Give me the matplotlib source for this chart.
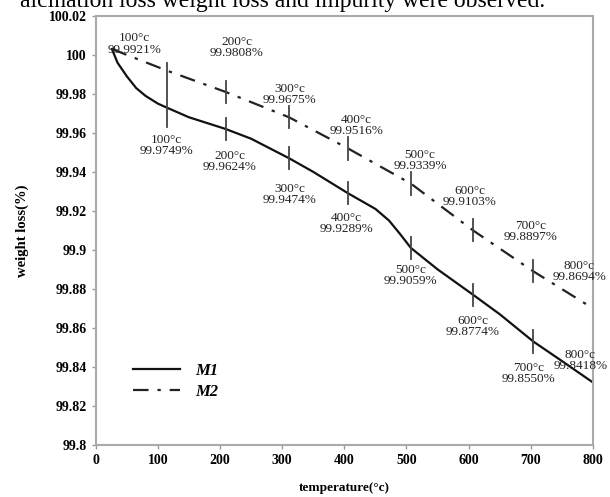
import numpy as np
import matplotlib.pyplot as plt

plt.rcParams['font.family'] = ['Liberation Serif', 'DejaVu Serif']

# M1 (solid) curve
m1_temp = [26, 35, 50, 65, 80, 100, 114, 150, 209, 250, 311, 350, 406, 450, 472, 490, 507, 550, 607, 650, 704, 750, 800]
m1_loss = [100.003, 99.996, 99.989, 99.983, 99.979, 99.975, 99.973, 99.968, 99.962, 99.957, 99.947, 99.940, 99.929, 99.921, 99.915, 99.908, 99.901, 99.890, 99.877, 99.867, 99.853, 99.843, 99.832]

# M2 (dash-dot) curve
m2_temp = [26, 114, 209, 311, 406, 507, 607, 704, 800]
m2_loss = [100.003, 99.992, 99.981, 99.968, 99.952, 99.934, 99.910, 99.889, 99.870]

# marker positions on each curve
mark_temp = [114, 209, 311, 406, 507, 607, 704]
m1_mark = [99.973, 99.962, 99.947, 99.929, 99.901, 99.877, 99.853]
m2_mark = [99.992, 99.981, 99.968, 99.952, 99.934, 99.910, 99.889]

# annotation text and where it sits (temp, value)
m2_labels = ['100°c\n99.9921%', '200°c\n99.9808%', '300°c\n99.9675%', '400°c\n99.9516%',
             '500°c\n99.9339%', '600°c\n99.9103%', '700°c\n99.8897%', '800°c\n99.8694%']
m2_lab_x = [62, 227, 312, 419, 522, 602, 699, 778]
m2_lab_y = [100.0056, 100.0036, 99.9797, 99.9638, 99.9459, 99.9274, 99.9095, 99.8887]
m1_labels = ['100°c\n99.9749%', '200°c\n99.9624%', '300°c\n99.9474%', '400°c\n99.9289%',
             '500°c\n99.9059%', '600°c\n99.8774%', '700°c\n99.8550%', '800°c\n99.8418%']
m1_lab_x = [114, 216, 312, 403, 506, 607, 696, 780]
m1_lab_y = [99.9536, 99.9454, 99.9285, 99.9133, 99.8869, 99.8605, 99.8364, 99.8433]

xticks = np.arange(0, 801, 100)
yticks = [99.8, 99.82, 99.84, 99.86, 99.88, 99.9, 99.92, 99.94, 99.96, 99.98, 100, 100.02]
ytick_labels = ['99.8', '99.82', '99.84', '99.86', '99.88', '99.9', '99.92', '99.94',
                '99.96', '99.98', '100', '100.02']

fig = plt.figure(figsize=(6.1, 4.97), dpi=100)
ax = fig.add_axes([0.157, 0.105, 0.815, 0.863])

ax.plot(m1_temp, m1_loss, color='#111111', linewidth=1.6, label='M1')
ax.plot(m2_temp, m2_loss, color='#222222', linewidth=1.6, dashes=[7, 4, 1.5, 4], label='M2')

# vertical markers
for i in range(len(mark_temp)):
    if i == 0:
        ax.plot([mark_temp[i], mark_temp[i]], [99.963, 99.996], color='#444444', linewidth=1.3)
    else:
        ax.plot([mark_temp[i], mark_temp[i]], [m1_mark[i] - 0.0057, m1_mark[i] + 0.0057], color='#444444', linewidth=1.3)
        ax.plot([mark_temp[i], mark_temp[i]], [m2_mark[i] - 0.0057, m2_mark[i] + 0.0057], color='#444444', linewidth=1.3)

for i in range(len(m2_labels)):
    ax.text(m2_lab_x[i], m2_lab_y[i], m2_labels[i], ha='center', va='center', fontsize=9.5,
            linespacing=0.9, color='#222222')
    ax.text(m1_lab_x[i], m1_lab_y[i], m1_labels[i], ha='center', va='center', fontsize=9.5,
            linespacing=0.9, color='#222222')

ax.set_xlim(0, 800)
ax.set_ylim(99.8, 100.02)
ax.set_xticks(xticks)
ax.set_yticks(yticks)
ax.set_yticklabels(ytick_labels)
ax.tick_params(direction='out', length=3, color='#999999', labelsize=10, width=1)
for lab in ax.get_xticklabels() + ax.get_yticklabels():
    lab.set_fontweight('bold')
for s in ax.spines.values():
    s.set_color('#aaaaaa')
    s.set_linewidth(1.5)

ax.set_xlabel('temperature(°c)', fontsize=9.5, fontweight='bold', labelpad=11)
ax.set_ylabel('weight loss(%)', fontsize=10.5, fontweight='bold', labelpad=14)

leg = ax.legend(loc='lower left', bbox_to_anchor=(0.045, 0.07), frameon=False,
                handlelength=2.8, fontsize=12, labelspacing=0.3, handletextpad=0.9)
for t in leg.get_texts():
    t.set_fontstyle('italic')
    t.set_fontweight('bold')

# the line of body text above the chart, cut off at the top as in the page scan
fig.text(0.463, 1 - 7 / 497, 'alcination loss weight loss and impurity were observed.',
         ha='center', va='baseline', fontsize=17)

fig.savefig('out.png', dpi=100)
